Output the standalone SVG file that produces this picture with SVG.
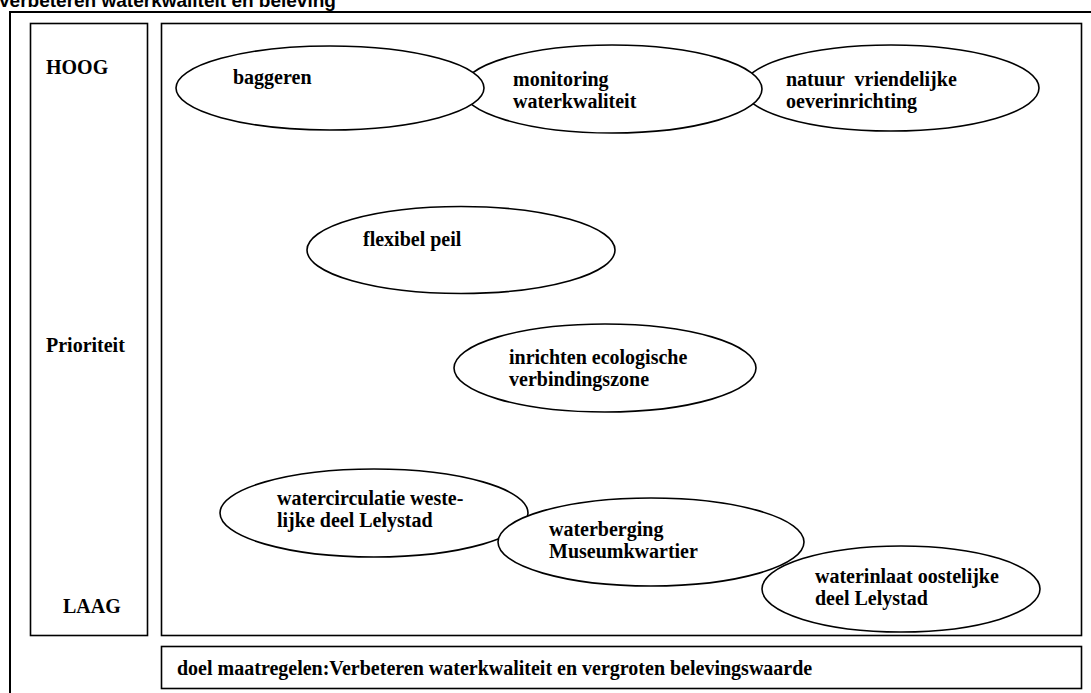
<svg xmlns="http://www.w3.org/2000/svg" width="1091" height="693" viewBox="0 0 1091 693">
<style>
.box{fill:#fff;stroke:#000;stroke-width:1.6}
.ell{fill:#fff;stroke:#000;stroke-width:1.6}
.t{font-family:"Liberation Serif","Times New Roman",serif;font-weight:bold;font-size:20px;fill:#000}
.title{font-family:"Liberation Sans",Arial,sans-serif;font-weight:bold;font-size:19px;fill:#000}
</style>
<rect width="1091" height="693" fill="#fff"/>
<text class="title" x="-2" y="7">Verbeteren waterkwaliteit en beleving</text>
<path d="M10,693 V12 H1091" fill="none" stroke="#000" stroke-width="2"/>
<g id="axis">
<rect class="box" x="30.5" y="23.5" width="117" height="612"/>
<text class="t" x="46" y="74">HOOG</text>
<text class="t" x="46" y="352">Prioriteit</text>
<text class="t" x="63" y="613">LAAG</text>
</g>
<g id="main">
<rect class="box" x="161.5" y="23.5" width="920" height="612"/>
</g>
<g id="goal">
<rect class="box" x="161.5" y="646.5" width="920" height="42"/>
<text class="t" x="177" y="675">doel maatregelen:Verbeteren waterkwaliteit en vergroten belevingswaarde</text>
</g>
<g id="connectors"></g>
<g id="natuur">
<ellipse class="ell" cx="891" cy="88" rx="148" ry="43"/>
<text class="t" x="786" y="86" xml:space="preserve">natuur  vriendelijke</text>
<text class="t" x="786" y="108">oeverinrichting</text>
</g>
<g id="monitoring">
<ellipse class="ell" cx="612" cy="89" rx="150" ry="44"/>
<text class="t" x="513" y="86">monitoring</text>
<text class="t" x="513" y="108">waterkwaliteit</text>
</g>
<g id="baggeren">
<ellipse class="ell" cx="330" cy="88" rx="154" ry="42"/>
<text class="t" x="233" y="84">baggeren</text>
</g>
<g id="flexibel">
<ellipse class="ell" cx="461" cy="250" rx="154" ry="43.5"/>
<text class="t" x="363" y="246">flexibel peil</text>
</g>
<g id="ecologisch">
<ellipse class="ell" cx="605" cy="368" rx="151" ry="44"/>
<text class="t" x="509" y="364">inrichten ecologische</text>
<text class="t" x="509" y="386">verbindingszone</text>
</g>
<g id="watercirculatie">
<ellipse class="ell" cx="374" cy="513" rx="154" ry="44"/>
<text class="t" x="277" y="505">watercirculatie weste-</text>
<text class="t" x="277" y="527">lijke deel Lelystad</text>
</g>
<g id="waterinlaat">
<ellipse class="ell" cx="901" cy="589" rx="139" ry="43"/>
<text class="t" x="815" y="583">waterinlaat oostelijke</text>
<text class="t" x="815" y="605">deel Lelystad</text>
</g>
<g id="waterberging">
<ellipse class="ell" cx="651" cy="542" rx="153" ry="44"/>
<text class="t" x="549" y="536">waterberging</text>
<text class="t" x="549" y="558">Museumkwartier</text>
</g>
</svg>
